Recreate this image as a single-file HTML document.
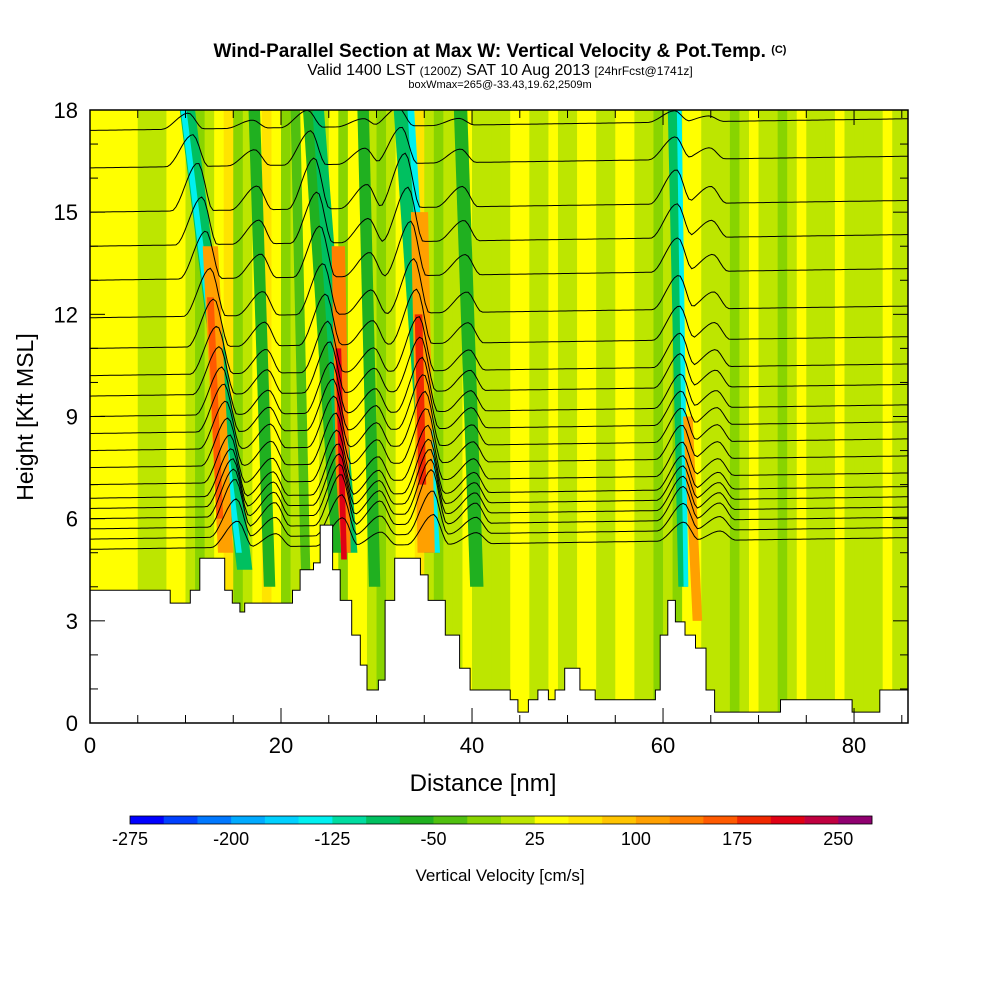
<!DOCTYPE html>
<html><head><meta charset="utf-8"><style>
body{margin:0;background:#fff;width:1000px;height:1000px;overflow:hidden}
svg{display:block}
text{font-family:"Liberation Sans",sans-serif}
</style></head><body>
<svg id="chart" width="1000" height="1000">
<defs><clipPath id="plotclip"><rect x="90" y="110" width="818" height="613"/></clipPath></defs>
<g id="field" clip-path="url(#plotclip)"></g>
<g id="contours" clip-path="url(#plotclip)"></g>
<g id="terrain"></g>
<g id="axes"></g>
<g id="cbar"></g>
<text x="500" y="57" text-anchor="middle" font-size="19" font-weight="bold">Wind-Parallel Section at Max W: Vertical Velocity &amp; Pot.Temp. <tspan font-size="11" dy="-4">(C)</tspan></text>
<text x="500" y="75" text-anchor="middle" font-size="16">Valid 1400 LST <tspan font-size="12">(1200Z)</tspan> SAT 10 Aug 2013 <tspan font-size="12">[24hrFcst@1741z]</tspan></text>
<text x="500" y="88" text-anchor="middle" font-size="11">boxWmax=265@-33.43,19.62,2509m</text>
<text x="483" y="791" text-anchor="middle" font-size="24">Distance [nm]</text>
<text transform="translate(33,417) rotate(-90)" text-anchor="middle" font-size="23">Height [Kft MSL]</text>
<text x="500" y="881" text-anchor="middle" font-size="17">Vertical Velocity [cm/s]</text>
</svg>
<script>
// ---- data ----
const colorLevels=[-275,-250,-225,-200,-175,-150,-125,-100,-75,-50,-25,0,25,50,75,100,125,150,175,200,225,250,275];
const palette=["#0000ff","#0040ff","#0078ff","#00aaff","#00d0ff","#00f0f0","#00dca0","#00c060","#20b020","#50c010","#88d400","#bde600","#ffff00","#ffe400","#ffc400","#ffa000","#ff8000","#ff5a00","#f02800","#e00014","#c00040","#900070"];
const colBarLabels=[-275,-200,-125,-50,25,100,175,250];
// background w per 1-nm column (0..85)
const columnW=[30,30,35,30,25,20,10,20,30,30,10,-10,20,40,60,-20,10,40,50,40,-10,10,30,40,10,30,-10,30,40,20,-10,10,30,40,60,20,-20,10,20,30,20,10,0,20,30,30,10,20,30,10,20,30,40,10,10,30,30,10,0,-10,20,-20,30,40,20,10,0,-10,10,30,10,0,-10,10,30,10,0,10,30,20,10,0,10,30,10,20];
// slanted streaks: bottom x (nm), bottom z (kft), top x, top z, half-width nm, w
const streakX0=[16.2,15.6,14.2,13.6,27.2,26.6,26.6,25.8,35.8,36.3,35.2,34.8,62.1,62.4,63.6,18.8,29.8,40.5,22.6];
const streakZ0=[4.5,5,5,6,5,5,4.8,5,5,5,5,7,4,4,3,4,4,4,4];
const streakX1=[10.2,9.8,12.6,12.6,23.7,26.0,26.0,22.8,32.6,33.6,34.5,34.4,61.0,61.7,62.6,17.2,28.6,38.8,21.5];
const streakZ1=[18,18,14,12.5,18,14,11,18,18,18,15,12,18,18,9,18,18,18,18];
const streakHW=[0.8,0.3,0.8,0.35,0.8,0.7,0.3,0.5,0.8,0.35,0.9,0.4,0.5,0.25,0.5,0.6,0.6,0.7,0.5];
const streakW=[-80,-150,110,170,-90,130,210,-60,-90,-150,110,190,-90,-140,100,-60,-60,-60,-40];
// terrain steps: start x (nm), height (kft)
const terrX=[0,8.4,10.5,11.5,14.1,14.9,15.7,16.2,21.2,22.0,23.4,24.1,25.4,26.2,27.4,28.3,29.0,30.2,30.9,31.9,34.6,35.4,37.2,38.7,39.8,44.0,44.8,45.9,46.9,48.0,48.7,49.7,51.3,52.9,59.2,59.7,60.5,61.3,62.3,63.4,64.5,65.4,72.3,79.8,82.7];
const terrZ=[3.9,3.52,3.9,4.84,3.9,3.52,3.26,3.52,3.9,4.5,4.7,5.81,4.5,3.6,2.58,1.7,0.97,1.26,3.6,4.84,4.35,3.6,2.58,1.61,0.97,0.68,0.32,0.68,0.97,0.68,0.97,1.61,0.97,0.68,0.97,2.58,3.6,2.97,2.58,2.2,0.97,0.32,0.68,0.32,0.97];
// theta contour base heights at left edge (kft)
const contourBase=[17.4,16.3,15.0,14.0,13.0,11.9,11.0,10.2,9.6,9.0,8.5,8.0,7.5,7.0,6.6,6.3,6.0,5.7,5.4,5.1];
// contour bump centers at 5 kft (nm), tilt (nm per kft), amplitudes (kft)
const bumpX=[15.5,19.5,26.5,30.5,36.0,40.5,62.2,66];
const bumpTilt=[-0.42,-0.2,-0.3,-0.15,-0.3,-0.15,-0.08,-0.1];
const bumpA=[1.4,0.7,1.5,0.7,1.6,0.6,1.0,0.5];
// ---- axes ----
const X0=90,X1=908,Y0=723,Y1=110,XMAX=85.65,ZMAX=18;
const sx=v=>X0+v/XMAX*(X1-X0), sz=v=>Y0-v/ZMAX*(Y0-Y1);
const NS="http://www.w3.org/2000/svg";
function mk(tag,attrs,parent){const e=document.createElementNS(NS,tag);for(const k in attrs)e.setAttribute(k,attrs[k]);parent.appendChild(e);return e;}
function colorOf(w){for(let i=0;i<palette.length;i++){if(w<colorLevels[i+1])return palette[i];}return palette[palette.length-1];}
const field=document.getElementById('field');
columnW.forEach((w,i)=>{
  const r=mk('rect',{x:sx(i),y:Y1,width:sx(i+1)-sx(i)+0.5,height:Y0-Y1,fill:colorOf(w)},field);
  
  
});
streakX0.forEach((x0,i)=>{
  const hw=streakHW[i];
  const pts=[[x0-hw,streakZ0[i]],[x0+hw,streakZ0[i]],[streakX1[i]+hw,streakZ1[i]],[streakX1[i]-hw,streakZ1[i]]].map(p=>sx(p[0])+','+sz(p[1])).join(' ');
  const p=mk('polygon',{points:pts,fill:colorOf(streakW[i])},field);
  
  
});
const cg=document.getElementById('contours');
contourBase.forEach((z0,j)=>{
  let d='';
  const n=contourBase.length;
  const damp=Math.min(1,(j+1)/3)*Math.min(1,(n-j)/4+0.3);
  for(let x=0;x<=XMAX+0.3;x+=0.3){
    let z=z0+0.004*x;
    bumpX.forEach((bx,k)=>{const c=bx+bumpTilt[k]*(z0-5);const dx=x-c;const f=dx<0?Math.max(0,1+dx/2.8):Math.max(0,1-dx/1.6);z+=bumpA[k]*f*f*(3-2*f)*damp;});
    d+=(d?'L':'M')+sx(x).toFixed(1)+','+sz(z).toFixed(1);
  }
  const p=mk('path',{d:d,fill:'none',stroke:'#000','stroke-width':1},cg);
  
  
});
const tg=document.getElementById('terrain');
let tp='M'+sx(0)+','+sz(0);
terrX.forEach((x,i)=>{
  const xe=i+1<terrX.length?terrX[i+1]:XMAX;
  tp+='L'+sx(x).toFixed(1)+','+sz(terrZ[i]).toFixed(1)+'L'+sx(xe).toFixed(1)+','+sz(terrZ[i]).toFixed(1);
});
tp+='L'+X1+','+Y0+'Z';
const tpath=mk('path',{d:tp,fill:'#fff',stroke:'#000','stroke-width':1},tg);


const ax=document.getElementById('axes');
mk('rect',{x:X0,y:Y1,width:X1-X0,height:Y0-Y1,fill:'none',stroke:'#000','stroke-width':1.5},ax);
const xTicks=[0,20,40,60,80], yTicks=[0,3,6,9,12,15,18];
for(let v=0;v<=85;v+=5){const L=v%20==0?15:8;mk('line',{x1:sx(v),x2:sx(v),y1:Y0,y2:Y0-L,stroke:'#000'},ax);mk('line',{x1:sx(v),x2:sx(v),y1:Y1,y2:Y1+L,stroke:'#000'},ax);}
for(let v=0;v<=18;v++){const L=v%3==0?15:8;mk('line',{x1:X0,x2:X0+L,y1:sz(v),y2:sz(v),stroke:'#000'},ax);mk('line',{x1:X1,x2:X1-L,y1:sz(v),y2:sz(v),stroke:'#000'},ax);}
xTicks.forEach(v=>{const t=mk('text',{x:sx(v),y:Y0+30,'text-anchor':'middle','font-size':22},ax);t.textContent=v;
  
  });
yTicks.forEach(v=>{const t=mk('text',{x:X0-12,y:sz(v)+8,'text-anchor':'end','font-size':22},ax);t.textContent=v;
  
  });
const cb=document.getElementById('cbar');
const CB0=130,CB1=872,bw=(CB1-CB0)/palette.length;
palette.forEach((c,i)=>{const r=mk('rect',{x:CB0+i*bw,y:816,width:bw+0.3,height:8,fill:c},cb);
  
  });
mk('rect',{x:CB0,y:816,width:CB1-CB0,height:8,fill:'none',stroke:'#000','stroke-width':0.8},cb);
colBarLabels.forEach(v=>{const i=colorLevels.indexOf(v);const t=mk('text',{x:CB0+i*bw,y:845,'text-anchor':'middle','font-size':18},cb);t.textContent=v;
  
  });
</script>
</body></html>
